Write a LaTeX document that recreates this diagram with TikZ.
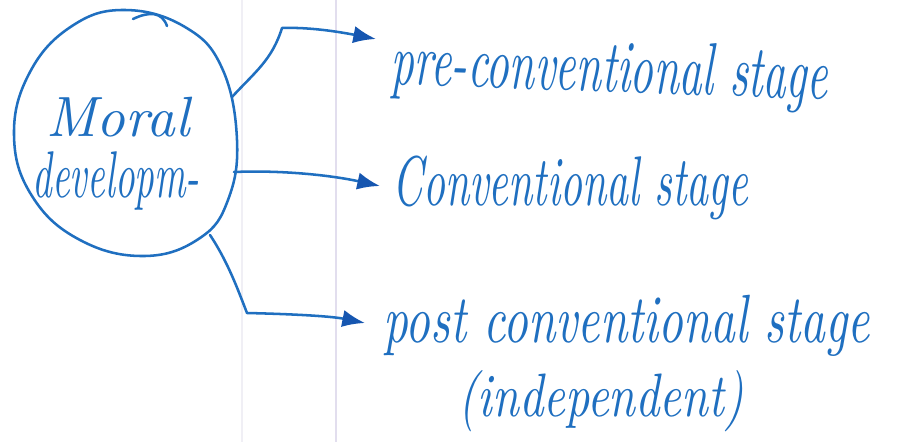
\documentclass[tikz,border=0pt]{standalone}
\usepackage{graphicx}
\usetikzlibrary{arrows.meta}
\definecolor{ink}{RGB}{31,111,192}
\definecolor{inkdark}{RGB}{22,86,176}
\definecolor{ruleA}{RGB}{240,239,245}
\definecolor{ruleB}{RGB}{226,222,238}
\begin{document}
\begin{tikzpicture}[x=0.75pt,y=-0.75pt,
  pen/.style={draw=ink,line width=1.9pt,line cap=round,line join=round},
  link/.style={pen,-{Latex[length=17pt,width=13pt,fill=inkdark,color=inkdark]}},
  label/.style={text=ink,inner sep=0pt,anchor=base west},
  paperrule/.style={line width=1.5pt}]
\useasboundingbox (0,0) rectangle (917,442);
\fill[white] (0,0) rectangle (917,442);

% faint ruling of the paper
\draw[paperrule,draw=ruleA] (242,0) -- (242,442);
\draw[paperrule,draw=ruleB] (336,0) -- (336,442);

% central bubble
\draw[pen] plot[smooth cycle,tension=0.7] coordinates
  {(125,10) (185,27) (222,68) (237,140) (228,200) (200,238) (145,256)
   (80,240) (32,196) (14,135) (30,72) (72,26)};
\draw[pen] (133,19) .. controls (150,11) and (162,12) .. (167,26);
\node[text=ink,inner sep=0pt] (moral) at (118,117)
  {\resizebox*{107pt}{30pt}{\itshape Moral}};
\node[text=ink,inner sep=0pt] (devel) at (116,181)
  {\resizebox*{125pt}{44pt}{\itshape developm-}};

% points where the arrows leave the bubble
\coordinate (c1) at (232,97);
\coordinate (c2) at (234,172);
\coordinate (c3) at (210,235);
% arrow tips
\coordinate (t1) at (376,39);
\coordinate (t2) at (380,186);
\coordinate (t3) at (365,323);

% stage labels
\node[label,rotate=-2] (pre) at (390,84)
  {\resizebox*{328pt}{50pt}{\itshape pre-conventional stage}};
\node[label] (conv) at (392,205)
  {\resizebox*{267pt}{48pt}{\itshape Conventional stage}};
\node[label] (post) at (383,342)
  {\resizebox*{365pt}{46pt}{\itshape post conventional stage}};
\node[label] (indep) at (458,416)
  {\resizebox*{214pt}{46pt}{\itshape (independent)}};

% connectors
\draw[link] (c1) .. controls (255,72) and (272,60) .. (282,28)
  .. controls (310,27) and (340,32) .. (t1);
\draw[link] (c2) .. controls (280,170) and (330,175) .. (t2);
\draw[link] (c3) .. controls (228,262) and (238,290) .. (247,313)
  .. controls (290,314) and (330,316) .. (t3);
\end{tikzpicture}
\end{document}
